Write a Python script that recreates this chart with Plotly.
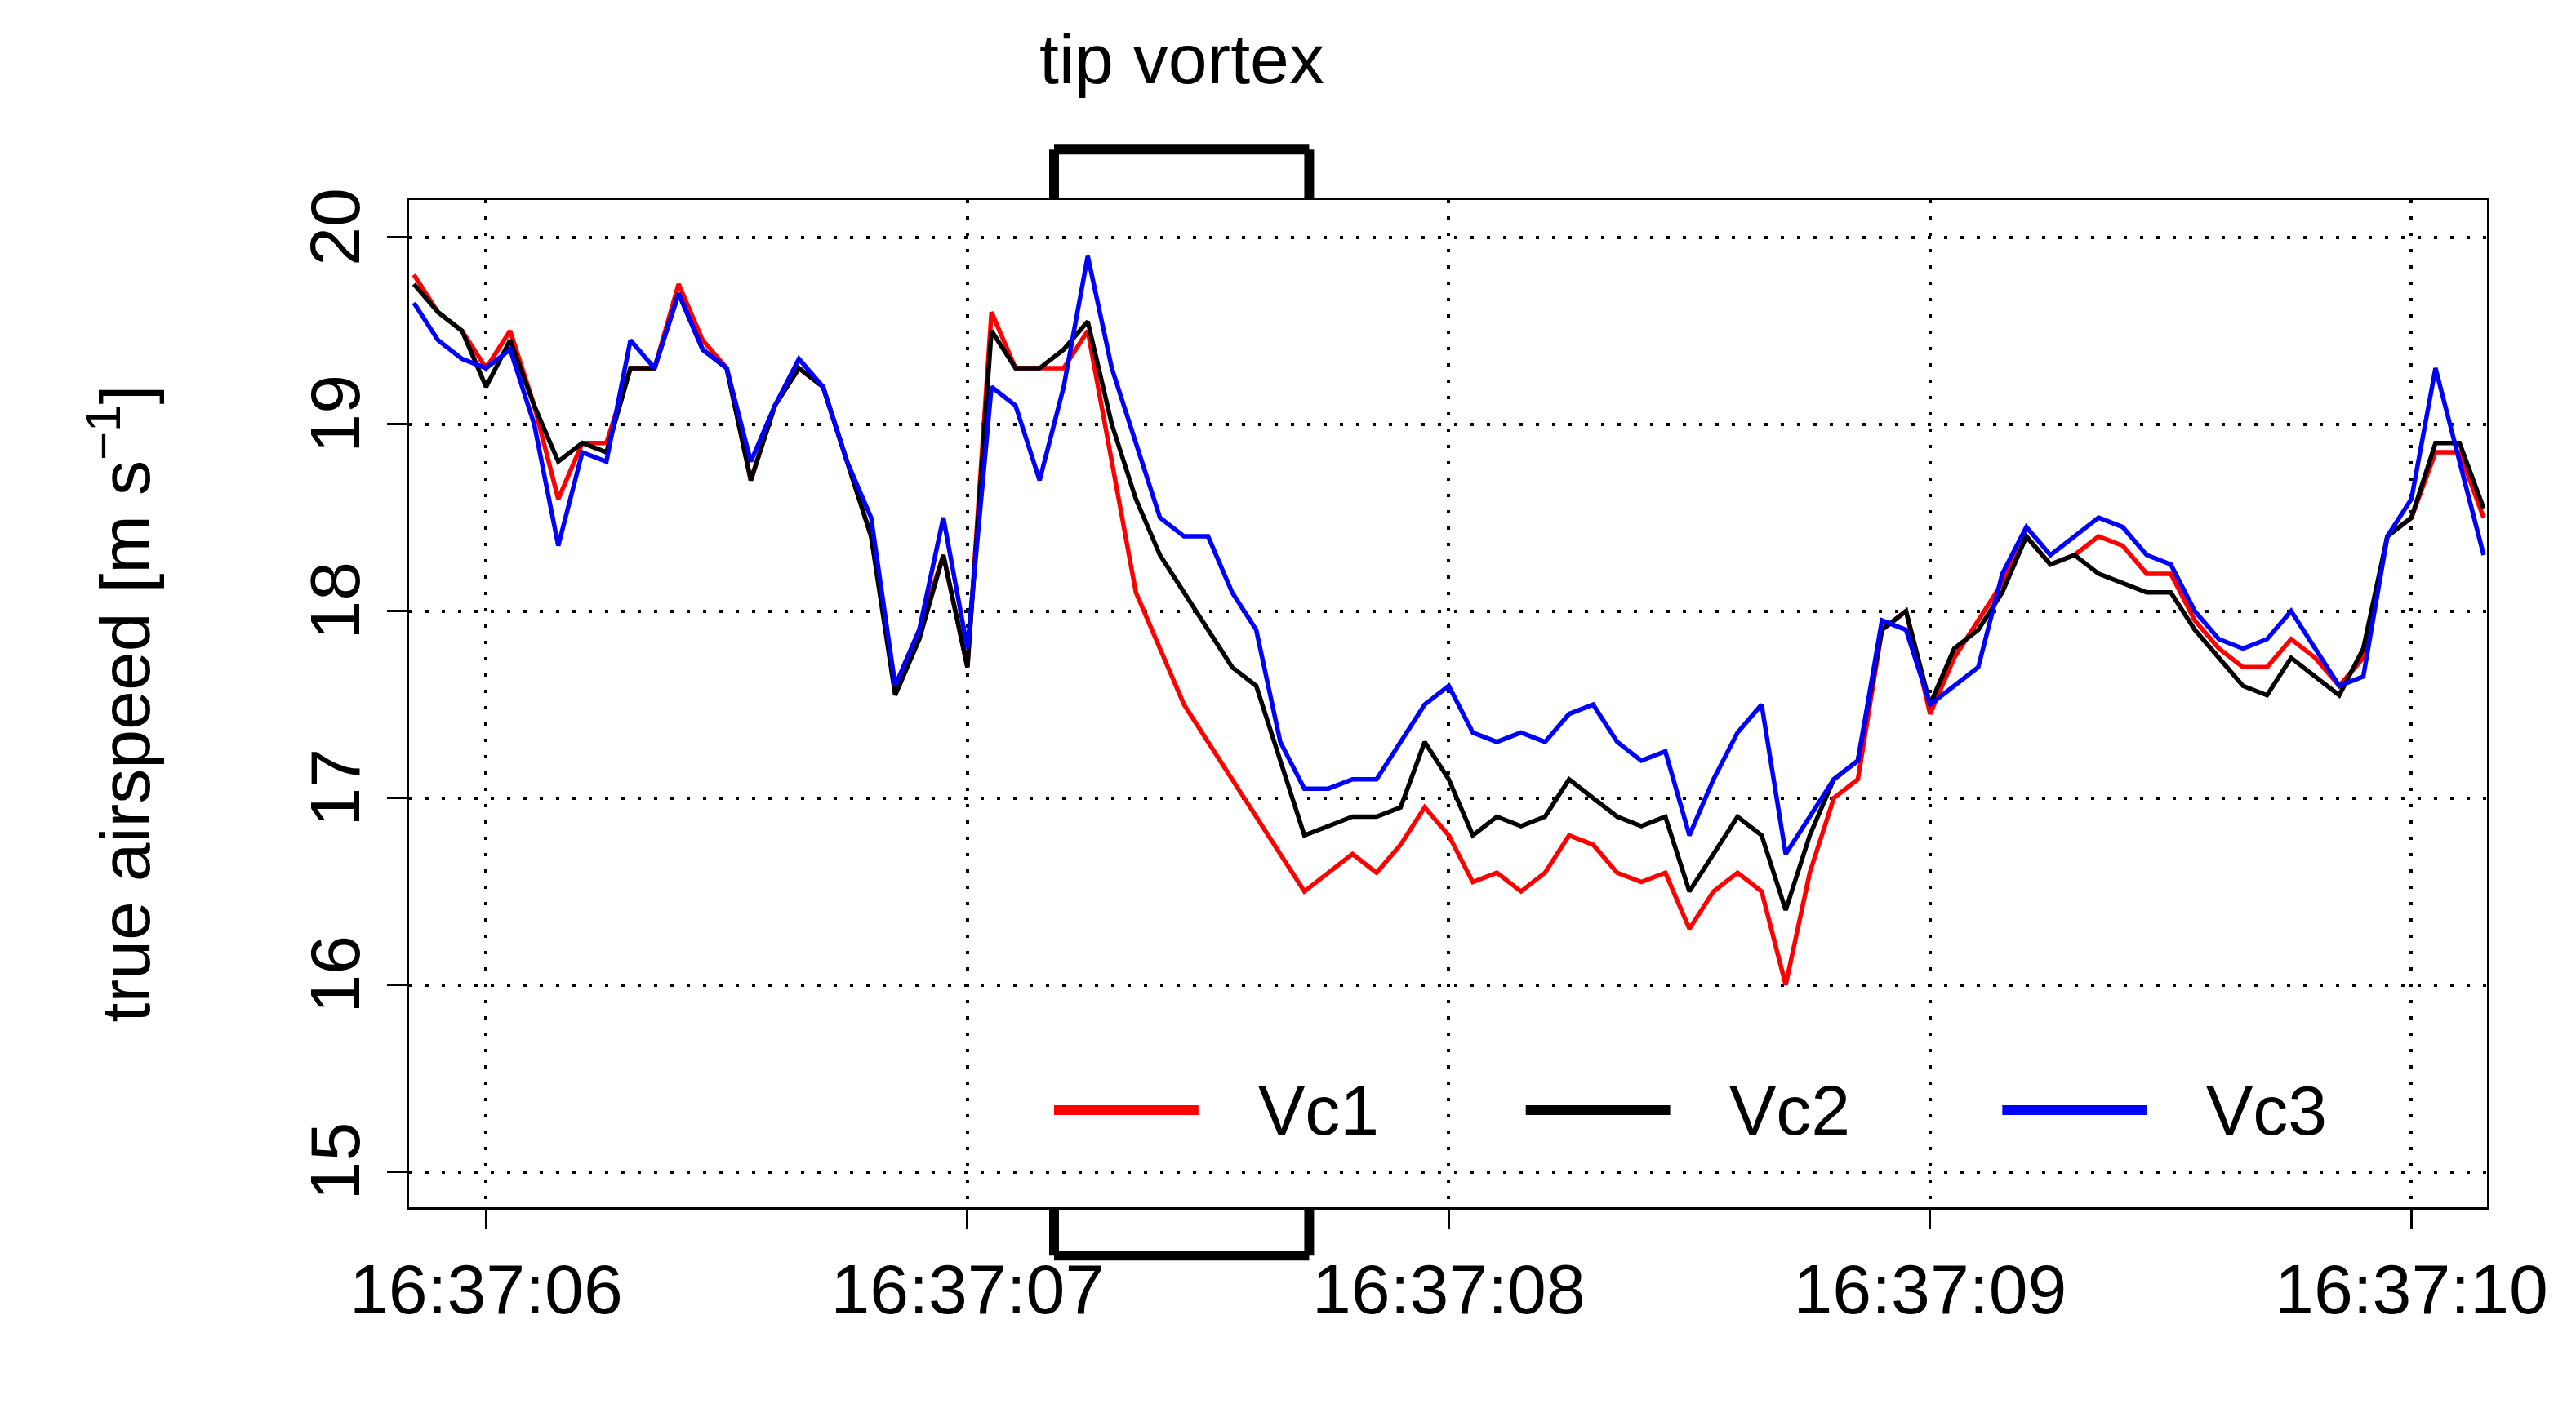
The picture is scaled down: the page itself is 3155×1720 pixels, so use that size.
import plotly.graph_objects as go

t = [5.85 + 0.05*i for i in range(87)]
vc2 = [19.75,19.6,19.5,19.2,19.45,19.1,18.8,18.9,18.85,19.3,19.3,19.7,19.4,19.3,18.7,19.1,19.3,19.2,18.8,18.4,
       17.55,17.85,18.3,17.7,19.5,19.3,19.3,19.4,19.55,19.0,18.6,18.3,18.1,17.9,17.7,17.6,17.2,16.8,16.85,16.9,
       16.9,16.95,17.3,17.1,16.8,16.9,16.85,16.9,17.1,17.0,16.9,16.85,16.9,16.5,16.7,16.9,16.8,16.4,16.8,17.1,
       17.2,17.9,18.0,17.5,17.8,17.9,18.1,18.4,18.25,18.3,18.2,18.15,18.1,18.1,17.9,17.75,17.6,17.55,17.75,17.65,
       17.55,17.8,18.4,18.5,18.9,18.9,18.55]
vc1 = [19.8,19.6,19.5,19.3,19.5,19.1,18.6,18.9,18.9,19.3,19.3,19.75,19.45,19.3,18.7,19.1,19.3,19.2,18.8,18.4,
       17.6,17.9,18.3,17.7,19.6,19.3,19.3,19.3,19.5,18.8,18.1,17.8,17.5,17.3,17.1,16.9,16.7,16.5,16.6,16.7,
       16.6,16.75,16.95,16.8,16.55,16.6,16.5,16.6,16.8,16.75,16.6,16.55,16.6,16.3,16.5,16.6,16.5,16.0,16.6,17.0,
       17.1,17.9,18.0,17.45,17.75,17.95,18.15,18.4,18.25,18.3,18.4,18.35,18.2,18.2,17.95,17.8,17.7,17.7,17.85,17.75,
       17.6,17.75,18.4,18.5,18.85,18.85,18.5]
vc3 = [19.65,19.45,19.35,19.3,19.4,19.0,18.35,18.85,18.8,19.45,19.3,19.7,19.4,19.3,18.8,19.1,19.35,19.2,18.8,18.5,
       17.6,17.9,18.5,17.8,19.2,19.1,18.7,19.2,19.9,19.3,18.9,18.5,18.4,18.4,18.1,17.9,17.3,17.05,17.05,17.1,
       17.1,17.3,17.5,17.6,17.35,17.3,17.35,17.3,17.45,17.5,17.3,17.2,17.25,16.8,17.1,17.35,17.5,16.7,16.9,17.1,
       17.2,17.95,17.9,17.5,17.6,17.7,18.2,18.45,18.3,18.4,18.5,18.45,18.3,18.25,18.0,17.85,17.8,17.85,18.0,17.8,
       17.6,17.65,18.4,18.6,19.3,18.8,18.3]
names = ["Vc1", "Vc2", "Vc3"]
colors = ["#ff0000", "#000000", "#0000ff"]
xticks = [6, 7, 8, 9, 10]
xticklabels = ["16:37:06", "16:37:07", "16:37:08", "16:37:09", "16:37:10"]
yticks = [15, 16, 17, 18, 19, 20]
vortex = [7.18, 7.71]

fig = go.Figure()
for n, c, v in zip(names, colors, [vc1, vc2, vc3]):
    fig.add_trace(go.Scatter(x=t, y=v, mode="lines", name=n, line=dict(color=c, width=5.5), showlegend=False))

F = "Liberation Sans"
ax = dict(showline=True, linecolor="black", linewidth=3, mirror=True, ticks="outside", ticklen=24,
          tickwidth=3, tickcolor="black", showgrid=True, griddash="4px,16px", gridcolor="black", gridwidth=4,
          zeroline=False, tickfont=dict(family=F, size=86, color="black"))
fig.update_xaxes(**ax, range=[5.84, 10.157], tickvals=xticks, ticktext=xticklabels)
fig.update_yaxes(**ax, range=[14.81, 20.2], tickvals=yticks, tickangle=-90,
                 title=dict(text="true airspeed [m s<sup>−1</sup>]", font=dict(family=F, size=86, color="black"), standoff=150))

shapes = []
for y0, y1, yb in [(1.0, 1.05, 1.05), (0.0, -0.048, -0.048)]:
    for xv in vortex:
        shapes.append(dict(type="line", xref="x", yref="paper", x0=xv, x1=xv, y0=y0, y1=y1, line=dict(color="black", width=12)))
    shapes.append(dict(type="line", xref="x", yref="paper", x0=vortex[0], x1=vortex[1], y0=yb, y1=yb, line=dict(color="black", width=12)))
ann = [dict(text="tip vortex", x=sum(vortex)/2, xref="x", y=1.1, yref="paper", yanchor="bottom", showarrow=False,
            font=dict(family=F, size=86, color="black"))]
lx = [(7.18, 7.48), (8.16, 8.46), (9.15, 9.45)]
for (a, b), n, c in zip(lx, names, colors):
    shapes.append(dict(type="line", xref="x", yref="y", x0=a, x1=b, y0=15.33, y1=15.33, line=dict(color=c, width=12)))
    ann.append(dict(text=n, x=b + 0.12, xref="x", y=15.33, yref="y", xanchor="left", showarrow=False,
                    font=dict(family=F, size=86, color="black")))

fig.update_layout(width=3155, height=1720, plot_bgcolor="white", paper_bgcolor="white",
                  margin=dict(l=493, r=117, t=237, b=249), shapes=shapes, annotations=ann, showlegend=False)
fig.write_html("out.html")
